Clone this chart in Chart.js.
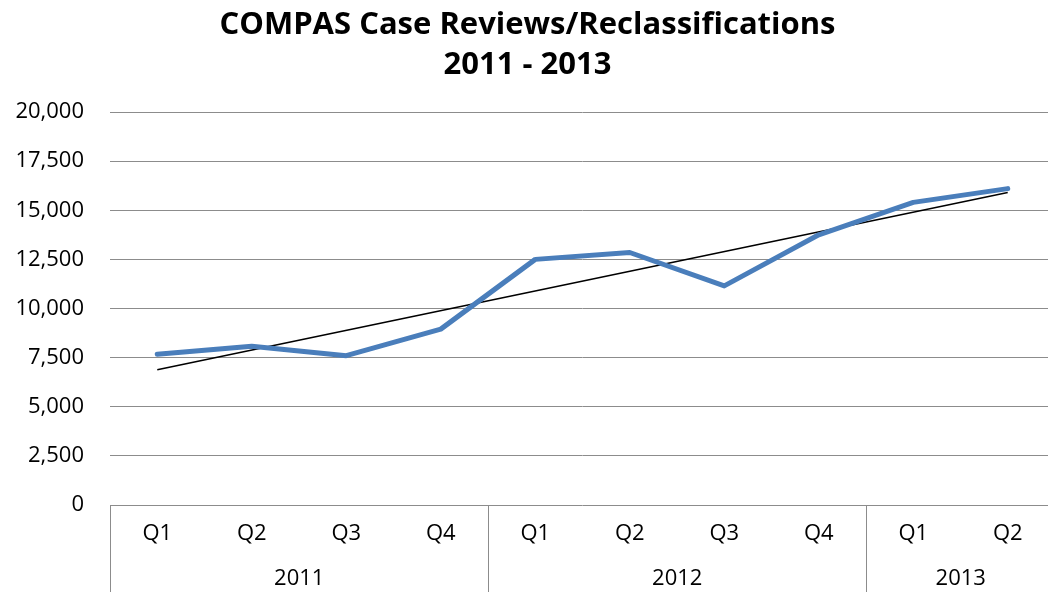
<!DOCTYPE html>
<html>
<head>
<meta charset="utf-8">
<script src="https://cdn.jsdelivr.net/npm/chart.js@4/dist/chart.umd.min.js"></script>
<style>
  html, body { margin: 0; padding: 0; background: #fff; overflow: hidden; }
  #wrap { width: 1060px; height: 600px; }
</style>
</head>
<body>
<div id="wrap"><canvas id="myChart" width="1060" height="600"></canvas></div>
<script>
// data
const quarters = ['Q1', 'Q2', 'Q3', 'Q4', 'Q1', 'Q2', 'Q3', 'Q4', 'Q1', 'Q2'];
const years = ['2011', '2011', '2011', '2011', '2012', '2012', '2012', '2012', '2013', '2013'];
const reviews = [7670, 8080, 7600, 8950, 12500, 12850, 11150, 13750, 15400, 16100];
// linear trendline: only its two end values, as seen in the picture
const trend = [6880, null, null, null, null, null, null, null, null, 15900];

const FONT = "'Open Sans', 'Liberation Sans', sans-serif";

// second row of the category axis (years) with the table lines
const yearRows = {
  id: 'yearRows',
  afterDraw(chart) {
    const ctx = chart.ctx;
    const x = chart.scales.x;
    const area = chart.chartArea;
    const step = x.getPixelForValue(1) - x.getPixelForValue(0);
    const groups = [];
    years.forEach((y, i) => {
      if (!groups.length || groups[groups.length - 1].year !== y) groups.push({ year: y, from: i, to: i });
      else groups[groups.length - 1].to = i;
    });
    ctx.save();
    ctx.strokeStyle = '#8c8c8c';
    ctx.lineWidth = 1;
    ctx.fillStyle = '#000';
    ctx.font = '22px ' + FONT;
    ctx.textAlign = 'center';
    ctx.textBaseline = 'middle';
    groups.forEach(g => {
      const left = Math.round(x.getPixelForValue(g.from) - step / 2) + 0.5;
      const right = x.getPixelForValue(g.to) + step / 2;
      ctx.beginPath();
      ctx.moveTo(left, area.bottom);
      ctx.lineTo(left, chart.height);
      ctx.stroke();
      ctx.fillText(g.year, (left + right) / 2, 579);
    });
    ctx.restore();
  }
};

let ctx = document.getElementById('myChart').getContext('2d');
new Chart(ctx, {
  type: 'line',
  data: {
    labels: quarters,
    datasets: [{
      label: 'Case Reviews/Reclassifications',
      data: reviews,
      borderColor: '#4a7ebb',
      backgroundColor: 'transparent',
      borderWidth: 5,
      pointRadius: 0,
      tension: 0,
      borderCapStyle: 'round',
      borderJoinStyle: 'round'
    }, {
      label: 'Linear trend',
      data: trend,
      spanGaps: true,
      borderColor: '#000',
      backgroundColor: 'transparent',
      borderWidth: 1.5,
      pointRadius: 0,
      tension: 0
    }]
  },
  options: {
    responsive: false,
    animation: false,
    layout: { padding: { left: 0, right: 5, top: 0, bottom: 0 } },
    plugins: {
      legend: { display: false },
      tooltip: { enabled: false },
      title: {
        display: true,
        text: ['COMPAS Case Reviews/Reclassifications', '2011 - 2013'],
        color: '#000',
        font: { family: FONT, size: 31, weight: 'bold', lineHeight: 40 / 31 },
        padding: { top: 5, bottom: 27 }
      }
    },
    scales: {
      x: {
        offset: true,
        grid: { display: false, drawTicks: false, offset: true },
        border: { display: false },
        ticks: { color: '#000', font: { family: FONT, size: 22 }, padding: 16, maxRotation: 0, autoSkip: false },
        afterFit(scale) { scale.height = 95; }
      },
      y: {
        min: 0,
        max: 20000,
        ticks: {
          stepSize: 2500,
          color: '#000',
          font: { family: FONT, size: 22 },
          padding: 26,
          callback: v => v.toLocaleString('en-US')
        },
        grid: { color: '#8c8c8c', lineWidth: 1, drawTicks: false },
        border: { display: false },
        afterFit(scale) { scale.width = 110; }
      }
    }
  },
  plugins: [yearRows]
});
</script>
</body>
</html>
